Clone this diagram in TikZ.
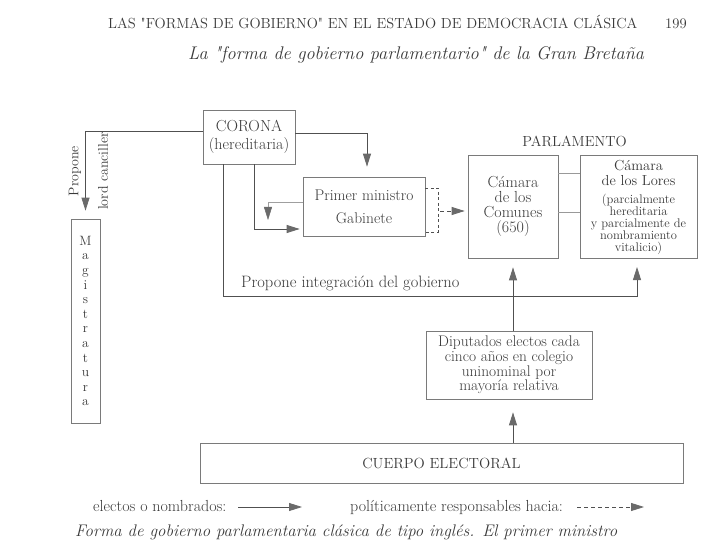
\documentclass[tikz,border=0pt]{standalone}
\usetikzlibrary{arrows.meta}
\definecolor{ink}{HTML}{3A3A3A}
\definecolor{linec}{HTML}{505050}
\definecolor{boxc}{HTML}{7A7A7A}
\definecolor{tipc}{HTML}{6A6A6A}
\begin{document}
\begin{tikzpicture}[x=1pt,y=-1pt,
  every node/.style={text=ink},
  bx/.style={draw=boxc, line width=0.7pt, inner sep=0pt, align=center, font=\fontsize{16}{15}\selectfont},
  lbl/.style={inner sep=0pt, align=center},
  conn/.style={draw=linec, line width=0.8pt},
  arr/.style={conn, -{Triangle[length=13pt,width=8pt,fill=tipc,color=tipc]}},
  darr/.style={arr, dash pattern=on 4pt off 3pt},
  ]
\clip (0,0) rectangle (720,540);
\fill[white] (0,0) rectangle (720,540);

% titles
\node[lbl, anchor=base west, font=\fontsize{14.6}{16}\selectfont] (hdr) at (108,29) {LAS \textquotedbl FORMAS DE GOBIERNO\textquotedbl{} EN EL ESTADO DE DEMOCRACIA CLÁSICA};
\node[lbl, anchor=base west, font=\fontsize{14.6}{16}\selectfont] (pg) at (665,29) {199};
\node[lbl, anchor=base west, font=\fontsize{18.3}{20}\selectfont\itshape] (sub) at (188,60) {La \textquotedbl forma de gobierno parlamentario\textquotedbl{} de la Gran Bretaña};

% boxes
\node[bx, minimum width=92, minimum height=54, font=\fontsize{16}{18}\selectfont] (corona) at (249,137) {CORONA\\(hereditaria)};
\node[bx, minimum width=29, minimum height=204, font=\fontsize{13.5}{14.6}\selectfont] (magis) at (85.5,321) {M\\a\\g\\i\\s\\t\\r\\a\\t\\u\\r\\a};
\node[bx, minimum width=122, minimum height=59, font=\fontsize{15.5}{23}\selectfont] (pm) at (364,206.5) {Primer ministro\\Gabinete};
\node[bx, minimum width=90, minimum height=103] (comunes) at (513,206.5) {Cámara\\de los\\Comunes\\(650)};
\node[bx, minimum width=117, minimum height=103] (lores) at (638.5,206.5) {};
\node[lbl, font=\fontsize{14.5}{15}\selectfont] (loresA) at (638.5,173) {Cámara\\de los Lores};
\node[lbl, font=\fontsize{12.5}{11.8}\selectfont] (loresB) at (638.5,224) {(parcialmente\\hereditaria\\y parcialmente de\\nombramiento\\vitalicio)};
\node[lbl, font=\fontsize{14.6}{16}\selectfont] (parl) at (574.5,141) {PARLAMENTO};
\node[bx, minimum width=166, minimum height=68, font=\fontsize{15.4}{14.7}\selectfont] (dip) at (509,365) {Diputados electos cada\\cinco años en colegio\\uninominal por\\mayoría relativa};
\node[bx, minimum width=483, minimum height=40, font=\fontsize{14.7}{16}\selectfont] (cuerpo) at (441.5,463) {CUERPO ELECTORAL};

% labels
\node[lbl, rotate=90, font=\fontsize{14}{15}\selectfont] (prop1) at (75,171) {Propone};
\node[lbl, rotate=90, font=\fontsize{14}{15}\selectfont] (prop2) at (103,171) {lord canciller};
\node[lbl, anchor=base west, font=\fontsize{16.5}{17}\selectfont] (propint) at (241,287) {Propone integración del gobierno};

% coordinates
\coordinate (magtop) at ([yshift=8pt]magis.north);
\coordinate (pmtop) at ([xshift=3pt,yshift=10pt]pm.north);
\coordinate (gtip) at (268,220);
\coordinate (lorestip) at (637,267);
\coordinate (comtip) at ([yshift=-9pt]comunes.south);
\coordinate (diptip) at ([yshift=-13pt]dip.south);
\coordinate (brk) at (438,188);

% connectors
\draw[arr] (corona.west |- 0,131) -| (magtop);
\draw[arr] (corona.east |- 0,133) -| (pmtop);
\draw[arr] (corona.south -| 254,0) |- ([xshift=-3pt]pm.west |- 0,229);
\draw[arr, draw=gray!75, line width=0.5pt] (pm.west |- 0,202) -| (gtip);
\draw[arr] (corona.south -| 223,0) |- (lorestip |- 0,296) -- (lorestip);
\draw[arr] (dip.north -| comtip) -- (comtip);
\draw[arr] (cuerpo.north -| comtip) -- (diptip -| comtip);
\draw[conn, dash pattern=on 3pt off 2.5pt] (pm.east |- brk) -- (brk) -- (brk |- 0,232) -- (pm.east |- 0,232);
\draw[darr] (440,211) -- ([xshift=-3pt]comunes.west |- 0,211);
\draw[conn, draw=gray!80, line width=0.6pt] (comunes.east |- 0,173) -- (lores.west |- 0,173);
\draw[conn, draw=gray!80, line width=0.6pt] (comunes.east |- 0,212) -- (lores.west |- 0,212);

% legend
\node[lbl, anchor=base west, font=\fontsize{16}{17}\selectfont] (leg1) at (93,511) {electos o nombrados:};
\coordinate (la1) at (238,507);
\coordinate (la2) at (302,507);
\draw[arr] (la1) -- (la2);
\node[lbl, anchor=base west, font=\fontsize{16}{17}\selectfont] (leg2) at (350,511) {políticamente responsables hacia:};
\coordinate (lb1) at (577,507);
\coordinate (lb2) at (644,507);
\draw[darr] (lb1) -- (lb2);

% caption
\node[lbl, anchor=base west, font=\fontsize{16.8}{17}\selectfont\itshape] (cap) at (75,536) {Forma de gobierno parlamentaria clásica de tipo inglés. El primer ministro};
\end{tikzpicture}
\end{document}
